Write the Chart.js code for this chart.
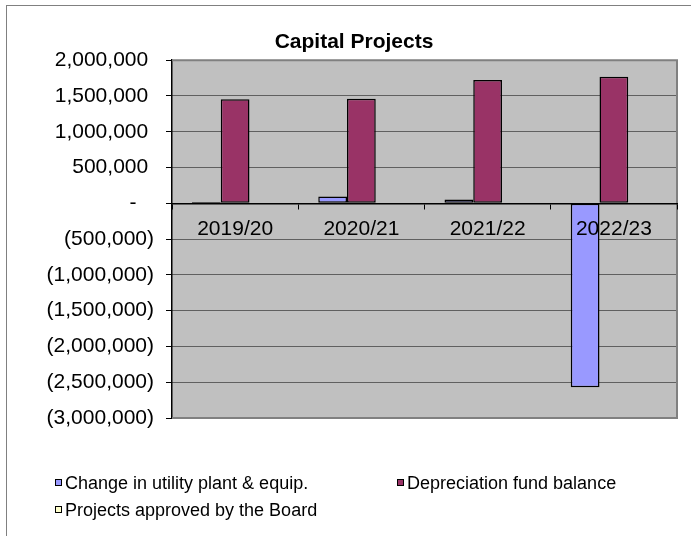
<!DOCTYPE html>
<html>
<head>
<meta charset="utf-8">
<script src="https://cdn.jsdelivr.net/npm/chart.js@4.4.1/dist/chart.umd.min.js"></script>
<style>
  body { margin: 0; background: #ffffff; }
  .chart-wrap { position: relative; width: 691px; height: 536px; }
  .legend-item {
    position: absolute;
    font: 18px "Liberation Sans", Arial, sans-serif;
    color: #000;
    white-space: nowrap;
    line-height: 20px;
  }
  .legend-box {
    position: absolute;
    top: 6px;
    width: 5px;
    height: 5px;
    border: 1.5px solid #000;
  }
</style>
</head>
<body>
<div class="chart-wrap" id="wrap">
  <canvas id="chart" width="691" height="536"></canvas>
</div>
<script>
//data
const categories = ["2019/20", "2020/21", "2021/22", "2022/23"];
const seriesNames = [
  "Change in utility plant & equip.",
  "Depreciation fund balance",
  "Projects approved by the Board",
];
const changeInPlant = [20000, 94000, 52000, -2570000];
const depreciationFund = [1455000, 1460000, 1725000, 1770000];
const projectsApproved = [0, 0, 0, 0];
const seriesColors = ["#9999FF", "#993366", "#FFFFCC"];

//y axis range and step
const yMin = -3000000;
const yMax = 2000000;
const yStep = 500000;

Chart.defaults.font.family = '"Liberation Sans", Arial, sans-serif';
Chart.defaults.color = "#000";

//accounting style labels: 1,000  (1,000)  -
function accounting(v) {
  if (v === 0) return "-   ";
  const s = Math.abs(v).toLocaleString("en-US");
  return v < 0 ? "(" + s + ")" : s + " ";
}

//gray plot area and the outer frame
const plotBackground = {
  id: "plotBackground",
  beforeDraw(chart) {
    const { ctx, chartArea: a } = chart;
    ctx.save();
    ctx.strokeStyle = "#808080";
    ctx.lineWidth = 1;
    ctx.strokeRect(6.5, 5.5, 900, 900);
    ctx.fillStyle = "#C0C0C0";
    ctx.fillRect(a.left, a.top, a.width, a.height);
    ctx.restore();
  },
  beforeDatasetsDraw(chart) {
    const { ctx, chartArea: a } = chart;
    ctx.save();
    ctx.strokeStyle = "#808080";
    ctx.lineWidth = 2;
    ctx.beginPath();
    ctx.moveTo(a.left, a.top);
    ctx.lineTo(a.right, a.top);
    ctx.lineTo(a.right, a.bottom);
    ctx.lineTo(a.left, a.bottom);
    ctx.stroke();
    ctx.restore();
  },
};

const seriesData = [changeInPlant, depreciationFund, projectsApproved];

const chart = new Chart(document.getElementById("chart"), {
  type: "bar",
  data: {
    labels: categories,
    datasets: seriesData.map((values, i) => ({
      label: seriesNames[i],
      data: values,
      backgroundColor: seriesColors[i],
      borderColor: "#000",
      borderWidth: 1.5,
      borderSkipped: false,
      categoryPercentage: 0.683,
      barPercentage: 1,
    })),
  },
  options: {
    responsive: false,
    animation: false,
    devicePixelRatio: 1,
    layout: { padding: { top: 0, left: 31, right: 14, bottom: 118 } },
    plugins: {
      legend: { display: false },
      tooltip: { enabled: false },
      title: {
        display: true,
        text: "Capital Projects",
        color: "#000",
        font: { size: 21, weight: "bold" },
        padding: { top: 30, bottom: 5 },
      },
    },
    scales: {
      x: {
        //axis sits on the zero line, labels drawn over the bars
        position: { y: 0 },
        ticks: { color: "#000", font: { size: 21 }, padding: 8, z: 1 },
        grid: {
          drawOnChartArea: false,
          offset: true,
          tickLength: 5,
          tickColor: "#000",
          z: 1,
        },
        border: { display: true, color: "#000", width: 1.5, z: 1 },
        afterFit: (s) => {
          s.height = 0;
        },
      },
      y: {
        min: yMin,
        max: yMax,
        ticks: {
          stepSize: yStep,
          color: "#000",
          font: { size: 21 },
          padding: 12,
          callback: (v) => accounting(v),
        },
        grid: {
          color: "#000",
          lineWidth: 1,
          tickLength: 6,
          tickColor: "#000",
        },
        //dotted grid lines, solid axis
        border: {
          display: true,
          color: "#000",
          width: 1.5,
          dash: (ctx) => (ctx.tick ? [1, 1] : []),
        },
        afterFit: (s) => {
          s.width = 141;
        },
      },
    },
  },
  plugins: [plotBackground],
});

//html legend built from the datasets, two columns like the original
const legendSpots = [
  { left: 55, top: 473 },
  { left: 397, top: 473 },
  { left: 55, top: 500 },
];
const wrap = document.getElementById("wrap");
chart.data.datasets.forEach((ds, i) => {
  const item = document.createElement("div");
  item.className = "legend-item";
  item.style.left = legendSpots[i].left + "px";
  item.style.top = legendSpots[i].top + "px";
  item.style.paddingLeft = "10px";
  const box = document.createElement("span");
  box.className = "legend-box";
  box.style.left = "0px";
  box.style.background = ds.backgroundColor;
  item.appendChild(box);
  item.appendChild(document.createTextNode(ds.label));
  wrap.appendChild(item);
});
</script>
</body>
</html>
